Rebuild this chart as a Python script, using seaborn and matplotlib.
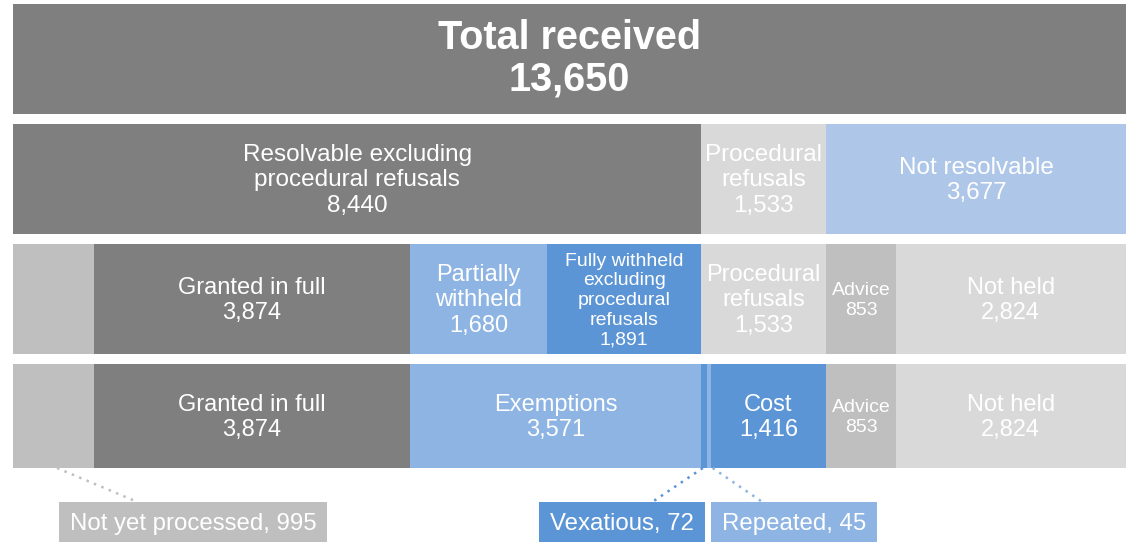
import seaborn as sns
import matplotlib.pyplot as plt

# rows of the breakdown, top to bottom
total_labels = ["Total received\n13,650"]
total_values = [13650]

level2_labels = ["Resolvable excluding\nprocedural refusals\n8,440",
                 "Procedural\nrefusals\n1,533",
                 "Not resolvable\n3,677"]
level2_values = [8440, 1533, 3677]

level3_labels = ["", "Granted in full\n3,874", "Partially\nwithheld\n1,680",
                 "Fully withheld\nexcluding\nprocedural\nrefusals\n1,891",
                 "Procedural\nrefusals\n1,533", "Advice\n853", "Not held\n2,824"]
level3_values = [995, 3874, 1680, 1891, 1533, 853, 2824]

level4_labels = ["", "Granted in full\n3,874", "Exemptions\n3,571", "", "",
                 "Cost\n1,416", "Advice\n853", "Not held\n2,824"]
level4_values = [995, 3874, 3571, 72, 45, 1416, 853, 2824]

callout_labels = ["Not yet processed, 995", "Vexatious, 72", "Repeated, 45"]

DARK = "#7f7f7f"
MID = "#bfbfbf"
LIGHT = "#d9d9d9"
BLUE_L = "#8db4e2"
BLUE_D = "#5b95d6"
BLUE_P = "#aec6e8"

rows = [
    (total_values, total_labels, [DARK], [28.5], ["bold"]),
    (level2_values, level2_labels, [DARK, LIGHT, BLUE_P], [17.5, 17.5, 17.5], ["normal"] * 3),
    (level3_values, level3_labels, [MID, DARK, BLUE_L, BLUE_D, LIGHT, MID, LIGHT],
     [17, 17, 17, 14, 17, 14, 17], ["normal"] * 7),
    (level4_values, level4_labels, [MID, DARK, BLUE_L, BLUE_D, BLUE_L, BLUE_D, MID, LIGHT],
     [17, 17, 17, 17, 17, 17, 14, 17], ["normal"] * 8),
]

sns.set_theme(style="white")
plt.rcParams["font.family"] = ["Liberation Sans", "DejaVu Sans"]

fig = plt.figure(figsize=(11.26, 5.42), dpi=100)
ax = fig.add_axes([13 / 1126, 0, 1 - 13 / 1126, 1])

heights = [0.917, 0.917, 0.917, 0.867]
centers = [0, 1, 2, 2.975]
for r, (vals, labs, cols, sizes, weights) in enumerate(rows):
    left = 0
    for v, lab, c, fs, fw in zip(vals, labs, cols, sizes, weights):
        ax.barh(centers[r], v, left=left, height=heights[r], color=c,
                edgecolor="none", linewidth=0)
        if lab:
            ls = 1.12 if r == 0 else 1.2
            dy = -0.005 if r == 0 else 0.012
            ax.text(left + v / 2, centers[r] + dy, lab, ha="center", va="center",
                    color="white", fontsize=fs, fontweight=fw, linespacing=ls)
        left += v

# callouts below the last row
box_x = [2207, 7469, 9578]
box_cols = [MID, BLUE_D, BLUE_L]
line_anchor = [540, 8460, 8580]
line_end = [1527, 7840, 9190]
bar_bottom = centers[3] + heights[3] / 2
box_top = (502 - 59) / 120
for lab, bx, bc, la, le in zip(callout_labels, box_x, box_cols, line_anchor, line_end):
    ax.plot([la, le], [bar_bottom, box_top], linestyle=(0, (1, 2.2)), color=bc,
            linewidth=1.8)
    ax.text(bx, (524 - 59) / 120, lab, ha="center", va="center", color="white",
            fontsize=17.3,
            bbox=dict(boxstyle="square,pad=0.46", facecolor=bc, edgecolor="none"))

ax.set_xlim(0, 13650)
ax.set_ylim((542 - 59) / 120, -59 / 120)
ax.axis("off")

fig.savefig("out.png", dpi=100)
